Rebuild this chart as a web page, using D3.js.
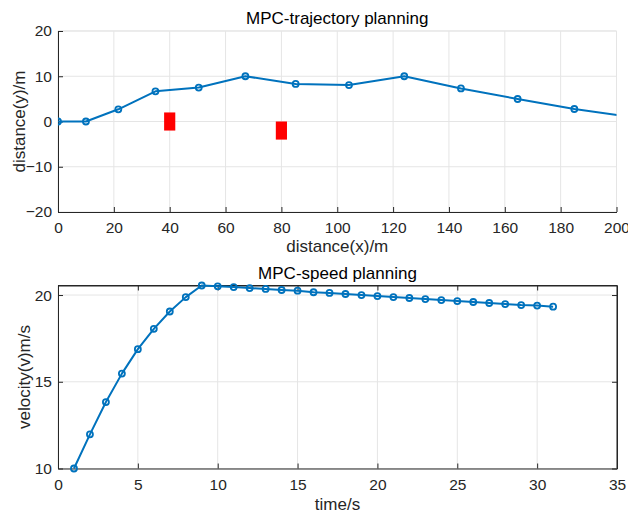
<!DOCTYPE html>
<html>
<head>
<meta charset="utf-8">
<script src="https://cdn.jsdelivr.net/npm/d3@7/dist/d3.min.js"></script>
<style>
  html, body { margin: 0; padding: 0; background: #fff; }
  svg { display: block; font-family: "Liberation Sans", Arial, Helvetica, sans-serif; }
</style>
</head>
<body>
<svg id="chart" width="628" height="515"></svg>
<script>
// Planned path: x position (m) and lateral offset y (m)
const pathX = [0, 10, 21.6, 34.9, 50.4, 67.1, 85.1, 104.2, 124.0, 144.3, 164.6, 184.9, 205.2];
const pathY = [0, 0, 2.7, 6.67, 7.5, 10.0, 8.3, 8.06, 10.0, 7.3, 4.97, 2.76, 0.98];

// Obstacles: centre x, centre y, width, height (m)
const obstacleX = [40, 80];
const obstacleY = [0, -2];
const obstacleW = [4, 4];
const obstacleH = [4, 4];

// Speed profile: time (s) and velocity (m/s)
const speedT = [1, 2, 3, 4, 5, 6, 7, 8, 9, 10, 11, 12, 13, 14, 15, 16, 17, 18, 19, 20,
                21, 22, 23, 24, 25, 26, 27, 28, 29, 30, 31];
const speedV = [10, 11.97, 13.83, 15.47, 16.88, 18.05, 19.05, 19.88, 20.55, 20.5, 20.46, 20.4,
                20.35, 20.29, 20.25, 20.16, 20.12, 20.06, 20.0, 19.94, 19.88, 19.83, 19.77,
                19.71, 19.65, 19.6, 19.54, 19.48, 19.42, 19.39, 19.33];

// Tick values
const pathXTicks = [0, 20, 40, 60, 80, 100, 120, 140, 160, 180, 200];
const pathYTicks = [-20, -10, 0, 10, 20];
const speedTTicks = [0, 5, 10, 15, 20, 25, 30, 35];
const speedVTicks = [10, 15, 20];

const LINE = "#0072BD";
const AXIS = "#262626";
const GRID = "#e5e5e5";
const TICK = 5;
const TICK_FONT = 15.5;
const LABEL_FONT = 17;

const svg = d3.select("#chart");

function panel(opts) {
  const { left, right, top, bottom, xDomain, yDomain, xTicks, yTicks, box, clipId } = opts;
  const x = d3.scaleLinear().domain(xDomain).range([left, right]);
  const y = d3.scaleLinear().domain(yDomain).range([bottom, top]);
  const g = svg.append("g");

  // grid
  const grid = g.append("g").attr("stroke", GRID).attr("stroke-width", 1);
  xTicks.forEach(t => grid.append("line")
    .attr("x1", x(t)).attr("x2", x(t)).attr("y1", top).attr("y2", bottom));
  yTicks.forEach(t => grid.append("line")
    .attr("x1", left).attr("x2", right).attr("y1", y(t)).attr("y2", y(t)));
  if (!box) {
    grid.append("line").attr("x1", left).attr("x2", right).attr("y1", top).attr("y2", top);
    grid.append("line").attr("x1", right).attr("x2", right).attr("y1", top).attr("y2", bottom);
  }

  svg.append("clipPath").attr("id", clipId)
    .append("rect").attr("x", left).attr("y", top - 6)
    .attr("width", right - left).attr("height", bottom - top + 12);

  // axes (ticks drawn inward)
  const xAxis = d3.axisBottom(x).tickValues(xTicks).tickSize(-TICK).tickPadding(10).tickSizeOuter(0);
  const yAxis = d3.axisLeft(y).tickValues(yTicks).tickSize(-TICK).tickPadding(6).tickSizeOuter(0);
  const ax = g.append("g").attr("transform", `translate(0,${bottom})`).call(xAxis);
  const ay = g.append("g").attr("transform", `translate(${left},0)`).call(yAxis);
  const axes = [ax, ay];
  if (box) {
    const tx = g.append("g").attr("transform", `translate(0,${top})`)
      .call(d3.axisTop(x).tickValues(xTicks).tickSize(-TICK).tickSizeOuter(0).tickFormat(""));
    const ry = g.append("g").attr("transform", `translate(${right},0)`)
      .call(d3.axisRight(y).tickValues(yTicks).tickSize(-TICK).tickSizeOuter(0).tickFormat(""));
    axes.push(tx, ry);
  }
  axes.forEach(a => {
    a.select(".domain").attr("stroke", AXIS).attr("stroke-width", 1);
    a.selectAll(".tick line").attr("stroke", AXIS);
    a.selectAll(".tick text").attr("fill", AXIS).attr("font-size", TICK_FONT)
      .attr("font-family", "Liberation Sans, Arial, sans-serif");
  });
  if (box) {
    // full-length box edges
    g.append("line").attr("x1", left).attr("x2", right).attr("y1", top).attr("y2", top).attr("stroke", AXIS);
    g.append("line").attr("x1", right).attr("x2", right).attr("y1", top).attr("y2", bottom).attr("stroke", AXIS);
  }
  return { x, y, g };
}

function labels(p, title, xl, yl, titleY, xlY, ylX) {
  const cx = (p.left + p.right) / 2;
  svg.append("text").attr("x", cx).attr("y", titleY).attr("text-anchor", "middle")
    .attr("font-size", LABEL_FONT).attr("fill", "#000").text(title);
  svg.append("text").attr("x", cx).attr("y", xlY).attr("text-anchor", "middle")
    .attr("font-size", LABEL_FONT).attr("fill", AXIS).text(xl);
  svg.append("text").attr("transform", `translate(${ylX},${(p.top + p.bottom) / 2}) rotate(-90)`)
    .attr("text-anchor", "middle").attr("font-size", LABEL_FONT).attr("fill", AXIS).text(yl);
}

function series(pn, xs, ys, clipId) {
  const data = xs.map((v, i) => [v, ys[i]]);
  const g = svg.append("g").attr("clip-path", `url(#${clipId})`);
  g.append("path").datum(data)
    .attr("fill", "none").attr("stroke", LINE).attr("stroke-width", 2)
    .attr("stroke-linejoin", "round")
    .attr("d", d3.line().x(d => pn.x(d[0])).y(d => pn.y(d[1])));
  g.selectAll("circle").data(data).join("circle")
    .attr("cx", d => pn.x(d[0])).attr("cy", d => pn.y(d[1])).attr("r", 3)
    .attr("fill", "none").attr("stroke", LINE).attr("stroke-width", 1.8);
}

// ---- trajectory panel ----
const top1 = { left: 58, right: 616.5, top: 31, bottom: 212 };
const p1 = panel({ ...top1, xDomain: [0, 200], yDomain: [-20, 20],
  xTicks: pathXTicks, yTicks: pathYTicks, box: false, clipId: "clip1" });
svg.append("g").selectAll("rect")
  .data(obstacleX.map((v, i) => ({ x: v, y: obstacleY[i], w: obstacleW[i], h: obstacleH[i] })))
  .join("rect")
  .attr("x", d => p1.x(d.x - d.w / 2))
  .attr("y", d => p1.y(d.y + d.h / 2))
  .attr("width", d => p1.x(d.x + d.w / 2) - p1.x(d.x - d.w / 2))
  .attr("height", d => p1.y(d.y - d.h / 2) - p1.y(d.y + d.h / 2))
  .attr("fill", "#ff0000");
series(p1, pathX, pathY, "clip1");
labels(top1, "MPC-trajectory planning", "distance(x)/m", "distance(y)/m", 24, 252, 25);

// ---- speed panel ----
const bot1 = { left: 58, right: 617, top: 285.5, bottom: 468.5 };
const p2 = panel({ ...bot1, xDomain: [0, 35], yDomain: [10, 20.55],
  xTicks: speedTTicks, yTicks: speedVTicks, box: true, clipId: "clip2" });
series(p2, speedT, speedV, "clip2");
labels(bot1, "MPC-speed planning", "time/s", "velocity(v)m/s", 279, 510, 30);
</script>
</body>
</html>
